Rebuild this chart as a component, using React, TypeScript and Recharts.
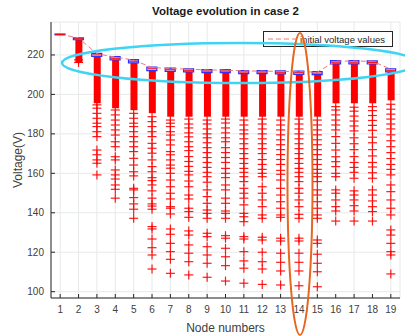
import React from 'react';
import { ComposedChart, Bar, Line, Scatter, XAxis, YAxis, CartesianGrid } from 'recharts';

const nodes = [1, 2, 3, 4, 5, 6, 7, 8, 9, 10, 11, 12, 13, 14, 15, 16, 17, 18, 19];
const yTicks = [100, 120, 140, 160, 180, 200, 220];

// initial voltage values (dashed line)
const initialVoltage = [230.5, 228.6, 220.6, 218.9, 217.4, 213.6, 213.1, 212.8, 212.4, 212.3, 211.9, 211.8, 211.7, 211.5, 211.3, 216.9, 216.9, 216.8, 212.8];
// box: median and quartiles
const medians = [230.4, 228.2, 220.0, 218.3, 216.8, 213.0, 212.5, 212.2, 211.8, 211.8, 211.3, 211.3, 211.2, 211.0, 210.8, 216.3, 216.3, 216.2, 212.2];
const q3 = [230.6, 228.7, 220.8, 219.1, 217.6, 213.9, 213.3, 213.0, 212.6, 212.6, 212.1, 212.1, 212.0, 211.8, 211.6, 217.1, 217.1, 217.0, 213.0];
const q1 = [230.2, 227.7, 219.2, 217.5, 216.0, 212.1, 211.7, 211.4, 211.0, 211.0, 210.5, 210.5, 210.4, 210.2, 210.0, 215.5, 215.5, 215.4, 211.4];
// bottom of the dense block of outliers under each box
const denseLow = [null, 216, 195.5, 193, 192, 190.5, 188.7, 188.7, 188.7, 188.7, 188.7, 188.7, 188.7, 188.7, 188.7, 195.5, 195.5, 195.5, 197];

const outliers: number[][] = [
  [],
  [216.2, 217.5],
  [194.7, 193, 190.4, 187.9, 185.4, 183.7, 181.1, 178.6, 171.8, 169.4, 166.8, 165.1, 159.2],
  [192.1, 189.6, 187, 184.5, 182, 179.4, 176, 173.5, 168.4, 166.8, 161.7, 159.2, 157.1, 154.1, 151.9, 147.4],
  [190.4, 187.9, 185.4, 183.7, 181.1, 178.6, 176, 173.5, 171, 167.6, 164.2, 160.8, 158.7, 152.4, 151.6, 147.7, 144.5, 141.8, 137.2],
  [188.7, 186.2, 183.7, 181.1, 178.6, 175.2, 172.7, 170.2, 166.8, 163.4, 160.8, 157.8, 156.3, 154.1, 151.1, 147.4, 144.5, 143.4, 141.8, 133, 131.8, 126.7, 122.3, 118.6, 111.5],
  [187, 185.4, 183.7, 181.1, 179.4, 176.9, 174.4, 171, 169.4, 166.8, 164.2, 162.6, 160, 156.6, 153.2, 149.9, 147, 143.1, 142.3, 139.4, 131.8, 129.1, 124.5, 120.3, 116.4, 109.3],
  [187.5, 185, 183, 180.5, 178.5, 176, 173.5, 171.5, 168.5, 166, 163.5, 161, 159.2, 156.1, 153.2, 149, 147, 142.3, 140.6, 137.7, 130.8, 128.7, 123.7, 119.5, 115.2, 108.5],
  [187, 185, 182.5, 180, 178, 175.5, 173, 170.5, 168, 165.5, 163, 160.5, 158.3, 155.5, 151.6, 148.2, 144.8, 141.4, 139.7, 137.2, 129.6, 127.9, 122.8, 118.6, 114.4, 107.3],
  [187.5, 185.5, 183, 180.5, 178, 176, 173, 170.5, 168, 165.5, 162.5, 160, 157.8, 154.1, 151.6, 147.4, 144.8, 140.9, 139.7, 137.2, 128.4, 127.1, 122, 117.7, 113.2, 105.4],
  [187, 184.5, 182, 180, 177.5, 175, 172.5, 170, 167.5, 165, 162.5, 160.5, 158.3, 155.8, 152.4, 149.9, 147.4, 144, 139.7, 138, 135.5, 127.9, 126.7, 120.3, 115.6, 111.9, 104.3],
  [187.5, 185, 182.5, 180, 177.5, 175, 172.5, 170, 167, 164.5, 162, 160, 158.3, 153.2, 149.9, 146.5, 143.1, 138.9, 137.2, 127.6, 126.2, 120, 115.2, 111.5, 103.7],
  [187, 184.5, 182, 179.5, 177, 174.5, 172, 169.5, 167, 164.5, 161.5, 159.5, 156.6, 152.4, 149, 145.6, 142.3, 138.9, 137.7, 127.1, 125.7, 119.5, 114.9, 110.5, 103.4],
  [187.5, 185, 182.5, 180, 177.5, 175, 172.5, 170, 167.5, 165, 162.5, 160.5, 158.3, 155.8, 152.4, 149.9, 146.5, 143.1, 139.2, 137.2, 127.1, 125.7, 119.5, 114.9, 110.5, 103],
  [187, 184.5, 182, 179.5, 177, 174.5, 172, 169.5, 167, 164.5, 162, 160, 158.3, 155.8, 151.6, 149, 145.6, 142.3, 138.9, 137.2, 126.2, 124.5, 119, 114.4, 110.1, 102.5],
  [193.8, 192.1, 189.6, 187, 184.5, 182, 178.6, 175.2, 171.8, 168.4, 165.9, 163.4, 160, 158.3, 151.6, 149.9, 146.5, 143.1, 140.9, 135.8],
  [193.5, 191.5, 189, 186.5, 184, 181.5, 178, 175, 172, 168.5, 165.5, 163, 160.5, 157.5, 151.1, 149, 146.5, 143.6, 140.9, 135.8],
  [193.8, 191.8, 189.3, 186.8, 184.3, 181.8, 178.3, 175.5, 172, 168.8, 165.5, 163.2, 160.3, 157.5, 151.6, 149, 146, 143.1, 140.6, 135.8],
  [195, 192.5, 190, 187.5, 185, 182.5, 179.5, 176.5, 173.5, 170.5, 167.5, 164.5, 162, 159.2, 154.1, 150.7, 146.5, 142.3, 138.9, 131.3, 128.7, 124.5, 120.3, 118.6, 109],
];

const rows = nodes.map((n, i) => ({
  node: n,
  init: initialVoltage[i],
  median: medians[i],
  box: [q1[i], q3[i]],
  dense: denseLow[i] == null ? null : [denseLow[i], q1[i]],
}));

const outlierPoints = nodes.flatMap((n, i) => outliers[i].map((v) => ({ node: n, v })));

const PlusMark = (props: any) => {
  const { cx, cy } = props;
  if (cx == null || cy == null) return null;
  return (
    <g stroke="#ff0000" strokeWidth={1.2} strokeOpacity={0.9}>
      <line x1={cx - 4.5} y1={cy} x2={cx + 4.5} y2={cy} />
      <line x1={cx} y1={cy - 4.5} x2={cx} y2={cy + 4.5} />
    </g>
  );
};

const MedianMark = (props: any) => {
  const { cx, cy } = props;
  if (cx == null || cy == null) return null;
  return <line x1={cx - 4.5} y1={cy} x2={cx + 4.5} y2={cy} stroke="#ff0000" strokeWidth={1} />;
};

const axisColor = '#262626';
const font = '"Liberation Sans", Arial, sans-serif';

export default function App() {
  return (
    <div style={{ position: 'absolute', left: 0, top: 0, width: 405, height: 336, background: '#fff', fontFamily: font }}>
      <ComposedChart width={405} height={336} data={rows} margin={{ top: 22, right: 5, bottom: 0, left: 11 }}>
        <CartesianGrid xAxisId="x" yAxisId="y" stroke="#e6e9ea" />
        <XAxis
          xAxisId="x"
          dataKey="node"
          type="number"
          domain={[0.5, 19.5]}
          ticks={nodes}
          height={38}
          stroke={axisColor}
          tickSize={-4}
          tickMargin={12}
          tick={{ fontSize: 10, fill: '#404040' }}
          label={{ value: 'Node numbers', position: 'insideBottom', offset: 4, style: { fontSize: 12, fill: '#404040' } }}
        />
        <XAxis xAxisId="b" dataKey="node" type="number" domain={[0.5, 19.5]} height={0} hide />
        <XAxis
          xAxisId="t"
          orientation="top"
          dataKey="node"
          type="number"
          domain={[0.5, 19.5]}
          ticks={nodes}
          height={0}
          stroke={axisColor}
          tickSize={-4}
          tick={false}
        />
        <YAxis
          yAxisId="y"
          type="number"
          domain={[96.8, 236.7]}
          ticks={yTicks}
          width={40}
          stroke={axisColor}
          tickSize={-4}
          tickMargin={11}
          tick={{ fontSize: 10, fill: '#404040' }}
          label={{ value: 'Voltage(V)', angle: -90, position: 'insideLeft', offset: 7, style: { fontSize: 12, fill: '#404040', textAnchor: 'middle' } }}
        />
        <YAxis
          yAxisId="r"
          orientation="right"
          type="number"
          domain={[96.8, 236.7]}
          ticks={yTicks}
          width={0}
          stroke={axisColor}
          tickSize={-4}
          tick={false}
        />
        <Bar xAxisId="x" yAxisId="y" dataKey="dense" fill="#ff0000" barSize={7} isAnimationActive={false} />
        <Scatter xAxisId="x" yAxisId="y" data={outlierPoints} dataKey="v" shape={PlusMark} isAnimationActive={false} />
        <Bar xAxisId="b" yAxisId="y" dataKey="box" fill="#dcd6ff" stroke="#2f2fff" strokeWidth={1.2} barSize={10} isAnimationActive={false} />
        <Scatter xAxisId="x" yAxisId="y" dataKey="median" shape={MedianMark} isAnimationActive={false} />
        <Line
          xAxisId="x"
          yAxisId="y"
          dataKey="init"
          stroke="#f07878"
          strokeWidth={1}
          strokeDasharray="5 3"
          dot={false}
          isAnimationActive={false}
        />
      </ComposedChart>

      <div
        style={{
          position: 'absolute',
          left: 0,
          width: 451,
          top: 5,
          textAlign: 'center',
          fontSize: 11.5,
          fontWeight: 'bold',
          color: '#1a1a1a',
        }}
      >
        Voltage evolution in case 2
      </div>

      <div
        style={{
          position: 'absolute',
          left: 263,
          top: 31,
          width: 128,
          height: 14,
          border: '1px solid #262626',
          background: '#fff',
          fontSize: 9.5,
          color: '#262626',
          display: 'flex',
          alignItems: 'center',
        }}
      >
        <svg width={36} height={14}>
          <line x1={4} y1={7} x2={32} y2={7} stroke="#f07878" strokeDasharray="5 3" />
        </svg>
        <span>initial voltage values</span>
      </div>

      <svg width={405} height={336} style={{ position: 'absolute', left: 0, top: 0, pointerEvents: 'none' }}>
        <ellipse cx={240} cy={63} rx={178} ry={20} fill="none" stroke="#3ed4f4" strokeWidth={2.5} />
        <ellipse cx={300} cy={184} rx={12.5} ry={151} fill="none" stroke="#e8661e" strokeWidth={2} />
      </svg>
    </div>
  );
}
